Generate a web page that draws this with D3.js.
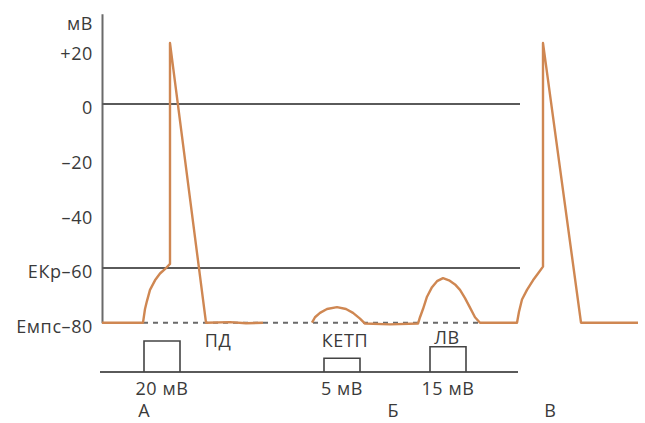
<!DOCTYPE html>
<html><head><meta charset="utf-8">
<script src="https://cdn.jsdelivr.net/npm/d3@7"></script>
<style>
html,body{margin:0;padding:0;background:#fff;}
svg{display:block;}
text{font-family:"Open Sans",sans-serif;fill:#3a3a3a;}
</style></head>
<body><svg id="c" width="645" height="423"></svg>
<script>
// ---- data ----
const yTickValues = [20, 0, -20, -40, -60, -80];
const yTickLabels = ["+20", "0", "–20", "–40", "ЕКр–60", "Емпс–80"];
const yUnit = "мВ";
const refLevels = [0, -60];          // solid horizontal reference lines (mV)
const restLevel = -80;               // dashed resting potential (mV)
// membrane potential traces: [time, mV]
const traceA = [[0,-80],[10.25,-80],[10.75,-75],[11.25,-72],[12,-68],[13.25,-64.5],[14.5,-62],[16,-60],[17,-58.5],
  [17,22.3],[26,-80],[32,-79.8],[36,-80.2],[40.25,-80]];
const traceB = [[52.5,-80],[53.25,-78],[54.5,-76.4],[56.25,-75],[58.75,-74.3],[61,-75],[62.75,-76.4],[64.5,-78.5],[65.75,-80.3],
  [72,-80.6],[79,-80.3],[79.5,-78],[80.25,-75],[81.25,-70.5],[82.5,-67],[83.75,-64.8],[85.25,-63.7],[86.75,-64.5],
  [88.25,-66],[89.5,-68],[90.75,-71],[92,-74.5],[93.25,-78],[94.5,-80],[103.75,-80],[104.25,-76],[105,-71.5],
  [106.25,-68],[107.75,-64.5],[109,-62],[110.25,-59.5],[110.25,22.3],[119.75,-80],[134,-80]];
const restDashed = [10.25, 94.5];    // time span of dashed resting line
const refSpan = [0, 104.5];          // time span of reference lines
const stimSpan = [-0.5, 104];        // stimulus baseline span
const stimuli = [
  {start:10.5, dur:9, amp:20, label:"20 мВ", event:"ПД", eventT:29},
  {start:55.5, dur:9, amp:5,  label:"5 мВ",  event:"КЕТП", eventT:60.75},
  {start:82,   dur:9, amp:15, label:"15 мВ", event:"ЛВ", eventT:86.25}
];
const sections = [{label:"А", t:10.5},{label:"Б", t:72.75},{label:"В", t:112}];

// ---- scales ----
const svg = d3.select("#c");
const x = d3.scaleLinear().domain([0,134]).range([102,638]);
const y = d3.scaleLinear().domain([-80,33]).range([322.7,13.8]);
const stimBase = 372;
const amp = d3.scaleLinear().domain([-7,20]).range([0,31]);

const gray = "#5a5a5a";
const orange = "#cf8752";

// y axis
const axis = d3.axisLeft(y).tickValues(yTickValues).tickFormat((d,i)=>yTickLabels[i])
  .tickSize(0).tickPadding(9);
const ga = svg.append("g").attr("transform",`translate(${x(0)},0)`).call(axis);
ga.select(".domain").attr("stroke","#6a6a6a").attr("stroke-width",2);
ga.selectAll("text").attr("font-size",18).attr("letter-spacing","0.6px")
  .attr("dy","0.55em").style("font-family","'Open Sans',sans-serif").attr("fill","#3a3a3a");
svg.append("text").attr("x",x(0)-9).attr("y",y(33)+16).attr("text-anchor","end")
  .attr("font-size",18).attr("letter-spacing","0.6px").text(yUnit);

// reference lines
svg.selectAll(".ref").data(refLevels).join("line")
  .attr("x1",x(refSpan[0])).attr("x2",x(refSpan[1]))
  .attr("y1",d=>y(d)).attr("y2",d=>y(d))
  .attr("stroke",gray).attr("stroke-width",2);

// dashed resting line
svg.append("line").attr("x1",x(restDashed[0])).attr("x2",x(restDashed[1]))
  .attr("y1",y(restLevel)).attr("y2",y(restLevel))
  .attr("stroke","#6a6a6a").attr("stroke-width",2).attr("stroke-dasharray","5,5");

// stimulus baseline and pulses
svg.append("line").attr("x1",x(stimSpan[0])).attr("x2",x(stimSpan[1]))
  .attr("y1",stimBase).attr("y2",stimBase).attr("stroke",gray).attr("stroke-width",2);
svg.selectAll(".pulse").data(stimuli).join("path")
  .attr("d",d=>`M${x(d.start)},${stimBase}V${stimBase-amp(d.amp)}H${x(d.start+d.dur)}V${stimBase}`)
  .attr("fill","none").attr("stroke","#444").attr("stroke-width",1.6);
svg.selectAll(".slabel").data(stimuli).join("text")
  .attr("x",d=>x(d.start+d.dur/2)).attr("y",stimBase+22.5).attr("text-anchor","middle")
  .attr("font-size",18).attr("letter-spacing","0.6px").text(d=>d.label);
svg.selectAll(".elabel").data(stimuli).join("text")
  .attr("x",d=>x(d.eventT)).attr("y",(d,i)=>i===2?344:347).attr("text-anchor","middle")
  .attr("font-size",18).attr("letter-spacing","0.6px").text(d=>d.event);
svg.selectAll(".sec").data(sections).join("text")
  .attr("x",d=>x(d.t)).attr("y",416.5).attr("text-anchor","middle")
  .attr("font-size",18).text(d=>d.label);

// traces
const line = d3.line().x(d=>x(d[0])).y(d=>y(d[1]));
[traceA, traceB].forEach(tr=>{
  svg.append("path").datum(tr).attr("d",line).attr("fill","none")
    .attr("stroke",orange).attr("stroke-width",2.4).attr("stroke-linejoin","round");
});
</script></body></html>
